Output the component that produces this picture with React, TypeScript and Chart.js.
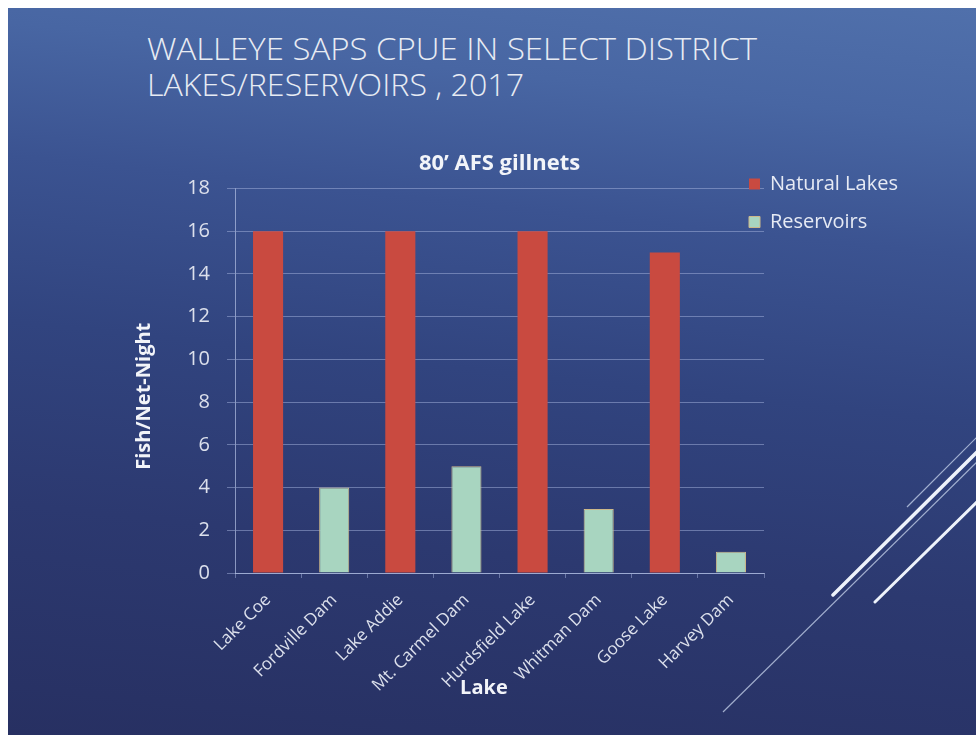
import React, { useEffect, useRef } from "react";
import { Chart, registerables } from "chart.js";

Chart.register(...registerables);

// ---- data ----
const categories = [
  "Lake Coe",
  "Fordville Dam",
  "Lake Addie",
  "Mt. Carmel Dam",
  "Hurdsfield Lake",
  "Whitman Dam",
  "Goose Lake",
  "Harvey Dam",
];
const seriesNames = ["Natural Lakes", "Reservoirs"];
const naturalLakes = [16, null, 16, null, 16, null, 15, null];
const reservoirs = [null, 4, null, 5, null, 3, null, 1];
const yMin = 0;
const yMax = 18;
const yStep = 2;
const slideTitle = ["WALLEYE SAPS CPUE IN SELECT DISTRICT", "LAKES/RESERVOIRS , 2017"];
const chartTitle = "80\u2019 AFS gillnets";
const yAxisTitle = "Fish/Net-Night";
const xAxisTitle = "Lake";

const FONT = "'Open Sans', 'DejaVu Sans', sans-serif";

const legendPlacer = {
  id: "legendPlacer",
  afterLayout(chart: any) {
    const lg = chart.legend;
    if (!lg) return;
    const pad = lg.options.labels.padding;
    lg.left = 749 - pad;
    lg.right = 976;
    lg.width = lg.right - lg.left;
    lg.top = 156;
    lg.bottom = lg.top + 120;
    lg.height = 120;
  },
};

export default function App() {
  const ref = useRef<HTMLCanvasElement>(null);

  useEffect(() => {
    if (!ref.current) return;
    Chart.defaults.font.family = FONT;
    const gridColor = "rgba(165,180,222,0.5)";
    const chart = new Chart(ref.current, {
      type: "bar",
      data: {
        labels: categories,
        datasets: [
          {
            label: seriesNames[0],
            data: naturalLakes,
            backgroundColor: "#c94a40",
            borderWidth: 0,
          },
          {
            label: seriesNames[1],
            data: reservoirs,
            backgroundColor: "#a8d5c0",
            borderColor: "#cdb98a",
            borderWidth: 1,
          },
        ],
      },
      options: {
        responsive: false,
        animation: false,
        devicePixelRatio: 1,
        layout: { padding: { top: 140, left: 120, right: 211, bottom: 32 } },
        datasets: {
          bar: { categoryPercentage: 1, barPercentage: 0.455 },
        },
        plugins: {
          title: {
            display: true,
            text: chartTitle,
            color: "#f2f4f9",
            fullSize: false,
            font: { size: 22, weight: "bold", family: FONT },
            padding: { top: 11, bottom: 11 },
          },
          legend: {
            display: true,
            position: "right",
            align: "start",
            maxWidth: 1,
            labels: {
              color: "#e6eaf4",
              boxWidth: 11,
              boxHeight: 11,
              padding: 18,
              font: { size: 20, family: FONT },
            },
          },
          tooltip: { enabled: false },
        },
        scales: {
          x: {
            stacked: true,
            grid: {
              display: true,
              drawOnChartArea: false,
              drawTicks: true,
              tickLength: 5,
              color: gridColor,
            },
            border: { display: true, color: "rgba(180,192,228,0.7)" },
            ticks: {
              color: "#dce0ec",
              autoSkip: false,
              minRotation: 45,
              maxRotation: 45,
              padding: 12,
              font: { size: 17, family: FONT },
            },
            title: {
              display: true,
              text: xAxisTitle + "      ",
              color: "#f2f4f9",
              font: { size: 20, weight: "bold", family: FONT },
              padding: { top: 0, bottom: 3 },
            },
            afterFit: (s: any) => {
              s.height = 130;
            },
          },
          y: {
            stacked: true,
            min: yMin,
            max: yMax,
            ticks: {
              stepSize: yStep,
              color: "#dce0ec",
              padding: 17,
              font: { size: 20, family: FONT },
            },
            grid: {
              color: gridColor,
              tickLength: 8,
              drawTicks: true,
            },
            border: { display: true, color: "rgba(180,192,228,0.7)" },
            title: {
              display: true,
              text: yAxisTitle + "      ",
              color: "#f2f4f9",
              font: { size: 20, weight: "bold", family: FONT },
              padding: { top: 12, bottom: 0 },
            },
            afterFit: (s: any) => {
              s.width = 115;
            },
          },
        },
      },
      plugins: [legendPlacer],
    } as any);
    return () => chart.destroy();
  }, []);

  return (
    <div>
      <div
        style={{
          position: "fixed",
          left: 8,
          top: 8,
          width: 968,
          height: 727,
          background:
            "linear-gradient(186deg, #5070ab 0%, #4866a3 14%, #3b5391 30%, #31447f 50%, #2c3970 72%, #273062 100%)",
        }}
      />
      <svg
        width={976}
        height={735}
        style={{ position: "fixed", left: 0, top: 0 }}
      >
        <text
          x={147}
          y={60}
          fill="#e7ebf3"
          fontFamily={FONT}
          fontWeight={300}
          fontSize={31}
          textLength={610}
          lengthAdjust="spacingAndGlyphs"
        >
          {slideTitle[0]}
        </text>
        <text
          x={147}
          y={96}
          fill="#e7ebf3"
          fontFamily={FONT}
          fontWeight={300}
          fontSize={31}
          textLength={377}
          lengthAdjust="spacingAndGlyphs"
        >
          {slideTitle[1]}
        </text>
        <line x1={723} y1={712} x2={980} y2={459} stroke="#c9d6ee" strokeWidth={1.2} opacity={0.75} />
        <line x1={907} y1={507} x2={980} y2={434} stroke="#c9d6ee" strokeWidth={1.2} opacity={0.75} />
        <line x1={833} y1={595} x2={980} y2={449} stroke="#eef3fb" strokeWidth={3.5} strokeLinecap="round" />
        <line x1={875} y1={602} x2={980} y2={499} stroke="#eef3fb" strokeWidth={3} strokeLinecap="round" />
      </svg>
      <div style={{ position: "fixed", left: 0, top: 0, width: 976, height: 735 }}>
        <canvas
          ref={ref}
          width={976}
          height={735}
          style={{ display: "block", width: 976, height: 735 }}
        />
      </div>
    </div>
  );
}
